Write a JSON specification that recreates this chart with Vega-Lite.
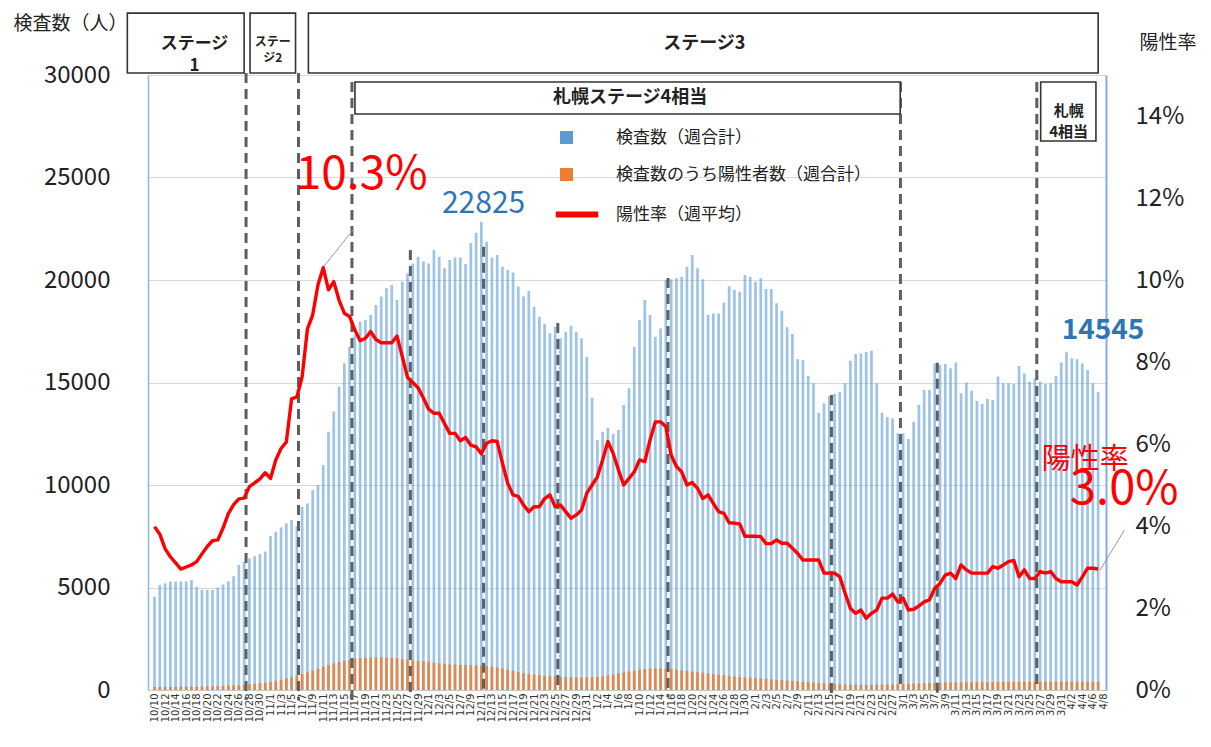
{
"$schema":"https://vega.github.io/schema/vega-lite/v6.json",
"width":958,"height":615,
"autosize":{"type":"none"},
"padding":{"left":148,"top":75,"right":105,"bottom":57},
"background":"white",
"config":{"view":{"stroke":null},"font":"Noto Sans CJK JP","text":{"font":"Noto Sans CJK JP"}},
"datasets":{"main":[
{"d":"2020-10-10","t":4550,"p":150,"r":3.98},{"d":"2020-10-11","t":5120,"p":150,"r":3.80},{"d":"2020-10-12","t":5200,"p":150,"r":3.45},{"d":"2020-10-13","t":5290,"p":150,"r":3.25},{"d":"2020-10-14","t":5290,"p":150,"r":3.10},{"d":"2020-10-15","t":5290,"p":160,"r":2.95},{"d":"2020-10-16","t":5300,"p":160,"r":3.00},{"d":"2020-10-17","t":5370,"p":160,"r":3.05},{"d":"2020-10-18","t":5040,"p":160,"r":3.13},{"d":"2020-10-19","t":4880,"p":170,"r":3.32},
{"d":"2020-10-20","t":4880,"p":170,"r":3.50},{"d":"2020-10-21","t":4880,"p":180,"r":3.64},{"d":"2020-10-22","t":5000,"p":190,"r":3.66},{"d":"2020-10-23","t":5150,"p":200,"r":3.95},{"d":"2020-10-24","t":5300,"p":210,"r":4.30},{"d":"2020-10-25","t":5550,"p":220,"r":4.52},{"d":"2020-10-26","t":6100,"p":240,"r":4.66},{"d":"2020-10-27","t":6260,"p":260,"r":4.68},{"d":"2020-10-28","t":6420,"p":280,"r":4.96},{"d":"2020-10-29","t":6530,"p":300,"r":5.05},
{"d":"2020-10-30","t":6630,"p":330,"r":5.15},{"d":"2020-10-31","t":6750,"p":360,"r":5.30},{"d":"2020-11-01","t":7510,"p":400,"r":5.16},{"d":"2020-11-02","t":7720,"p":450,"r":5.61},{"d":"2020-11-03","t":7930,"p":500,"r":5.89},{"d":"2020-11-04","t":8130,"p":560,"r":6.05},{"d":"2020-11-05","t":8290,"p":630,"r":7.10},{"d":"2020-11-06","t":8000,"p":700,"r":7.15},{"d":"2020-11-07","t":8940,"p":780,"r":7.64},{"d":"2020-11-08","t":9100,"p":860,"r":8.80},
{"d":"2020-11-09","t":9760,"p":950,"r":9.15},{"d":"2020-11-10","t":10000,"p":1040,"r":9.88},{"d":"2020-11-11","t":10980,"p":1130,"r":10.3},{"d":"2020-11-12","t":12600,"p":1220,"r":9.76},{"d":"2020-11-13","t":13580,"p":1300,"r":9.96},{"d":"2020-11-14","t":14800,"p":1370,"r":9.51},{"d":"2020-11-15","t":15940,"p":1430,"r":9.19},{"d":"2020-11-16","t":16750,"p":1480,"r":9.11},{"d":"2020-11-17","t":17300,"p":1520,"r":8.78},{"d":"2020-11-18","t":17970,"p":1550,"r":8.52},
{"d":"2020-11-19","t":18050,"p":1570,"r":8.58},{"d":"2020-11-20","t":18290,"p":1580,"r":8.74},{"d":"2020-11-21","t":18780,"p":1590,"r":8.55},{"d":"2020-11-22","t":19190,"p":1590,"r":8.47},{"d":"2020-11-23","t":19600,"p":1580,"r":8.47},{"d":"2020-11-24","t":19760,"p":1560,"r":8.47},{"d":"2020-11-25","t":19030,"p":1540,"r":8.63},{"d":"2020-11-26","t":19920,"p":1510,"r":8.13},{"d":"2020-11-27","t":20330,"p":1480,"r":7.62},{"d":"2020-11-28","t":20810,"p":1450,"r":7.50},
{"d":"2020-11-29","t":21140,"p":1420,"r":7.37},{"d":"2020-11-30","t":20900,"p":1390,"r":7.12},{"d":"2020-12-01","t":20810,"p":1360,"r":6.85},{"d":"2020-12-02","t":21460,"p":1330,"r":6.75},{"d":"2020-12-03","t":21140,"p":1300,"r":6.75},{"d":"2020-12-04","t":20570,"p":1280,"r":6.50},{"d":"2020-12-05","t":20975,"p":1260,"r":6.26},{"d":"2020-12-06","t":21100,"p":1240,"r":6.26},{"d":"2020-12-07","t":21100,"p":1230,"r":6.08},{"d":"2020-12-08","t":20780,"p":1220,"r":6.16},
{"d":"2020-12-09","t":21800,"p":1210,"r":5.97},{"d":"2020-12-10","t":22300,"p":1200,"r":5.93},{"d":"2020-12-11","t":22825,"p":1190,"r":5.76},{"d":"2020-12-12","t":21870,"p":1170,"r":6.02},{"d":"2020-12-13","t":21100,"p":1140,"r":6.08},{"d":"2020-12-14","t":21220,"p":1100,"r":6.06},{"d":"2020-12-15","t":20650,"p":1050,"r":5.53},{"d":"2020-12-16","t":20490,"p":990,"r":5.04},{"d":"2020-12-17","t":20360,"p":930,"r":4.76},{"d":"2020-12-18","t":19680,"p":870,"r":4.72},
{"d":"2020-12-19","t":19190,"p":820,"r":4.51},{"d":"2020-12-20","t":19480,"p":780,"r":4.35},{"d":"2020-12-21","t":18700,"p":750,"r":4.47},{"d":"2020-12-22","t":18210,"p":720,"r":4.47},{"d":"2020-12-23","t":17850,"p":700,"r":4.67},{"d":"2020-12-24","t":17400,"p":680,"r":4.76},{"d":"2020-12-25","t":17720,"p":670,"r":4.47},{"d":"2020-12-26","t":17160,"p":650,"r":4.51},{"d":"2020-12-27","t":17480,"p":640,"r":4.35},{"d":"2020-12-28","t":17770,"p":630,"r":4.19},
{"d":"2020-12-29","t":17480,"p":620,"r":4.27},{"d":"2020-12-30","t":17160,"p":610,"r":4.39},{"d":"2020-12-31","t":16260,"p":610,"r":4.80},{"d":"2021-01-01","t":14260,"p":620,"r":5.00},{"d":"2021-01-02","t":12200,"p":640,"r":5.20},{"d":"2021-01-03","t":12600,"p":670,"r":5.61},{"d":"2021-01-04","t":12790,"p":710,"r":6.06},{"d":"2021-01-05","t":12500,"p":760,"r":5.77},{"d":"2021-01-06","t":12680,"p":810,"r":5.37},{"d":"2021-01-07","t":13900,"p":860,"r":5.00},
{"d":"2021-01-08","t":14720,"p":910,"r":5.16},{"d":"2021-01-09","t":16750,"p":950,"r":5.32},{"d":"2021-01-10","t":18050,"p":990,"r":5.61},{"d":"2021-01-11","t":19020,"p":1020,"r":5.57},{"d":"2021-01-12","t":18290,"p":1040,"r":6.10},{"d":"2021-01-13","t":17230,"p":1050,"r":6.54},{"d":"2021-01-14","t":17640,"p":1050,"r":6.54},{"d":"2021-01-15","t":20000,"p":1040,"r":6.42},{"d":"2021-01-16","t":20040,"p":1020,"r":5.73},{"d":"2021-01-17","t":20080,"p":990,"r":5.45},
{"d":"2021-01-18","t":20160,"p":960,"r":5.32},{"d":"2021-01-19","t":20650,"p":930,"r":5.00},{"d":"2021-01-20","t":21220,"p":900,"r":5.06},{"d":"2021-01-21","t":20570,"p":870,"r":4.92},{"d":"2021-01-22","t":20040,"p":840,"r":4.67},{"d":"2021-01-23","t":18290,"p":810,"r":4.76},{"d":"2021-01-24","t":18370,"p":780,"r":4.55},{"d":"2021-01-25","t":18370,"p":750,"r":4.35},{"d":"2021-01-26","t":18900,"p":720,"r":4.31},{"d":"2021-01-27","t":19700,"p":690,"r":4.08},
{"d":"2021-01-28","t":19510,"p":660,"r":4.07},{"d":"2021-01-29","t":19430,"p":640,"r":4.05},{"d":"2021-01-30","t":20240,"p":620,"r":3.75},{"d":"2021-01-31","t":20160,"p":600,"r":3.75},{"d":"2021-02-01","t":19920,"p":580,"r":3.75},{"d":"2021-02-02","t":20080,"p":560,"r":3.74},{"d":"2021-02-03","t":19560,"p":540,"r":3.57},{"d":"2021-02-04","t":19560,"p":520,"r":3.57},{"d":"2021-02-05","t":18860,"p":500,"r":3.66},{"d":"2021-02-06","t":18500,"p":480,"r":3.58},
{"d":"2021-02-07","t":17690,"p":460,"r":3.58},{"d":"2021-02-08","t":17360,"p":440,"r":3.46},{"d":"2021-02-09","t":16130,"p":420,"r":3.33},{"d":"2021-02-10","t":16100,"p":400,"r":3.17},{"d":"2021-02-11","t":15320,"p":380,"r":3.17},{"d":"2021-02-12","t":14960,"p":360,"r":3.17},{"d":"2021-02-13","t":13530,"p":340,"r":3.17},{"d":"2021-02-14","t":13990,"p":320,"r":2.85},{"d":"2021-02-15","t":14340,"p":300,"r":2.85},{"d":"2021-02-16","t":14440,"p":290,"r":2.85},
{"d":"2021-02-17","t":14550,"p":280,"r":2.76},{"d":"2021-02-18","t":14960,"p":270,"r":2.36},{"d":"2021-02-19","t":16060,"p":260,"r":1.99},{"d":"2021-02-20","t":16390,"p":250,"r":1.87},{"d":"2021-02-21","t":16420,"p":250,"r":1.95},{"d":"2021-02-22","t":16490,"p":250,"r":1.75},{"d":"2021-02-23","t":16550,"p":250,"r":1.87},{"d":"2021-02-24","t":14960,"p":255,"r":1.95},{"d":"2021-02-25","t":13530,"p":260,"r":2.24},{"d":"2021-02-26","t":13300,"p":265,"r":2.24},
{"d":"2021-02-27","t":13250,"p":270,"r":2.34},{"d":"2021-02-28","t":12520,"p":280,"r":2.15},{"d":"2021-03-01","t":12520,"p":290,"r":2.24},{"d":"2021-03-02","t":12240,"p":300,"r":1.95},{"d":"2021-03-03","t":13090,"p":310,"r":1.97},{"d":"2021-03-04","t":13900,"p":320,"r":2.05},{"d":"2021-03-05","t":14640,"p":330,"r":2.15},{"d":"2021-03-06","t":14640,"p":340,"r":2.20},{"d":"2021-03-07","t":15930,"p":350,"r":2.48},{"d":"2021-03-08","t":15850,"p":360,"r":2.60},
{"d":"2021-03-09","t":15900,"p":370,"r":2.80},{"d":"2021-03-10","t":15690,"p":370,"r":2.85},{"d":"2021-03-11","t":15980,"p":375,"r":2.72},{"d":"2021-03-12","t":14470,"p":375,"r":3.05},{"d":"2021-03-13","t":15000,"p":380,"r":2.93},{"d":"2021-03-14","t":14600,"p":380,"r":2.85},{"d":"2021-03-15","t":14100,"p":380,"r":2.85},{"d":"2021-03-16","t":13950,"p":380,"r":2.85},{"d":"2021-03-17","t":14200,"p":385,"r":2.85},{"d":"2021-03-18","t":14150,"p":385,"r":3.01},
{"d":"2021-03-19","t":15290,"p":390,"r":2.97},{"d":"2021-03-20","t":14960,"p":390,"r":3.05},{"d":"2021-03-21","t":14960,"p":390,"r":3.13},{"d":"2021-03-22","t":14930,"p":395,"r":3.16},{"d":"2021-03-23","t":15810,"p":395,"r":2.76},{"d":"2021-03-24","t":15450,"p":395,"r":2.93},{"d":"2021-03-25","t":15040,"p":400,"r":2.72},{"d":"2021-03-26","t":15200,"p":400,"r":2.72},{"d":"2021-03-27","t":15040,"p":400,"r":2.89},{"d":"2021-03-28","t":14930,"p":400,"r":2.85},
{"d":"2021-03-29","t":14960,"p":400,"r":2.89},{"d":"2021-03-30","t":15320,"p":400,"r":2.72},{"d":"2021-03-31","t":15970,"p":405,"r":2.64},{"d":"2021-04-01","t":16500,"p":405,"r":2.64},{"d":"2021-04-02","t":16180,"p":405,"r":2.64},{"d":"2021-04-03","t":16130,"p":405,"r":2.56},{"d":"2021-04-04","t":15930,"p":405,"r":2.76},{"d":"2021-04-05","t":15610,"p":405,"r":2.97},{"d":"2021-04-06","t":14960,"p":400,"r":2.97},{"d":"2021-04-07","t":14545,"p":400,"r":2.95}
]},
"data":{"name":"main"},
"resolve":{"scale":{"y":"independent"}},
"layer":[
{"layer":[
 {"mark":{"type":"bar","width":2.7,"opacity":0.6},
  "encoding":{
   "x":{"field":"d","type":"temporal","scale":{"type":"utc","domain":[1602262800000,1617800400000]},
     "axis":{"title":null,"tickCount":{"interval":"day","step":1},"labelExpr":"round((datum.value - 1602288000000) / 86400000) % 2 == 0 ? utcFormat(datum.value, '%-m/%-d') : ''","labelAngle":-90,"labelFont":"DejaVu Sans","labelFontSize":10,"labelColor":"#333333","ticks":false,"grid":false,"labelOverlap":false,"labelBound":false,"labelFlush":false,"labelPadding":3,"domainColor":"#C8C8C8"}},
   "y":{"field":"t","type":"quantitative","title":"検査数（人）","scale":{"domain":[0,30000],"nice":false},
     "axis":{"values":[0,5000,10000,15000,20000,25000,30000],"format":"d","labelFontSize":24,"labelColor":"#222222","labelPadding":38,"ticks":false,"grid":true,"gridColor":"#D9D9D9","domainColor":"#8DB6E0","domainWidth":1.5,"titleAngle":0,"titleAlign":"left","titleBaseline":"middle","titleX":-135,"titleY":-52,"titleFontSize":19,"titleFontWeight":"normal","titleColor":"#222222"}},
   "color":{"datum":"検査数（週合計）","type":"nominal",
     "scale":{"domain":["検査数（週合計）","検査数のうち陽性者数（週合計）","陽性率（週平均）"],"range":["#5B9BD5","#ED7D31","#FF0000"]},
     "legend":{"orient":"none","legendX":412,"legendY":54,"title":null,"labelFontSize":17,"labelColor":"#222222","labelLimit":500,"symbolSize":170,"labelOffset":39,"rowPadding":19,"symbolOpacity":1,
       "encode":{"symbols":{"update":{
         "shape":{"signal":"datum.index == 2 ? 'stroke' : 'square'"},
         "size":{"signal":"datum.index == 2 ? 1800 : 170"},
         "fill":{"signal":"datum.index == 0 ? '#5B9BD5' : datum.index == 1 ? '#ED7D31' : 'transparent'"},
         "stroke":{"signal":"datum.index == 2 ? '#FF0000' : 'transparent'"},
         "strokeWidth":{"signal":"datum.index == 2 ? 6 : 0"},
         "opacity":{"value":1},
         "x":{"signal":"datum.index == 2 ? 17 : 6.5"}}}}}}
  }},
 {"mark":{"type":"bar","width":2.7,"opacity":0.85},
  "encoding":{"x":{"field":"d","type":"temporal"},"y":{"field":"p","type":"quantitative","title":"検査数（人）"},"color":{"datum":"検査数のうち陽性者数（週合計）","type":"nominal"}}},
 {"data":{"values":[
   {"d":"2020-10-27T08:40:00Z","top":30100,"bot":-490},
   {"d":"2020-11-06T07:30:00Z","top":30100,"bot":-490},
   {"d":"2020-11-16T10:50:00Z","top":29660,"bot":-490},
   {"d":"2020-11-27T12:40:00Z","top":21460,"bot":-340},
   {"d":"2020-12-11T10:00:00Z","top":21620,"bot":-250},
   {"d":"2020-12-25T12:00:00Z","top":17900,"bot":0},
   {"d":"2021-01-15T09:40:00Z","top":20100,"bot":-340},
   {"d":"2021-02-15T09:40:00Z","top":14390,"bot":-340},
   {"d":"2021-02-28T12:00:00Z","top":29660,"bot":0},
   {"d":"2021-03-07T12:00:00Z","top":15960,"bot":-400},
   {"d":"2021-03-26T08:40:00Z","top":29660,"bot":0}]},
  "mark":{"type":"rule","color":"#5F5F5F","strokeWidth":3,"strokeDash":[10,6]},
  "encoding":{"x":{"field":"d","type":"temporal"},"y":{"field":"top","type":"quantitative","title":"検査数（人）"},"y2":{"field":"bot"}}},
 {"data":{"values":[
   {"a":"2020-10-04T20:10:00Z","b":"2020-10-26T23:50:00Z","y1":33020,"y2":30100},
   {"a":"2020-10-28T02:50:00Z","b":"2020-11-05T18:00:00Z","y1":33020,"y2":30100},
   {"a":"2020-11-08T04:30:00Z","b":"2021-04-07T00:00:00Z","y1":33020,"y2":30100},
   {"a":"2020-11-17T00:30:00Z","b":"2021-02-28T10:50:00Z","y1":29660,"y2":28100},
   {"a":"2021-03-27T02:20:00Z","b":"2021-04-06T14:00:00Z","y1":29660,"y2":26780}]},
  "mark":{"type":"rect","fill":"white","stroke":"#333333","strokeWidth":1.6},
  "encoding":{"x":{"field":"a","type":"temporal"},"x2":{"field":"b"},"y":{"field":"y1","type":"quantitative","title":"検査数（人）"},"y2":{"field":"y2"}}},
 {"data":{"values":[{"d":"2020-10-17T14:00:00Z","y":31510,"s":"ステージ|1"}]},
  "mark":{"type":"text","fontSize":17,"fontWeight":"bold","lineBreak":"|","lineHeight":22,"color":"#222222","baseline":"middle"},
  "encoding":{"x":{"field":"d","type":"temporal"},"y":{"field":"y","type":"quantitative","title":"検査数（人）"},"text":{"field":"s"}}},
 {"data":{"values":[{"d":"2020-11-01T10:30:00Z","y":31610,"s":"ステー|ジ2"}]},
  "mark":{"type":"text","fontSize":12,"fontWeight":"bold","lineBreak":"|","lineHeight":16,"color":"#222222","baseline":"middle"},
  "encoding":{"x":{"field":"d","type":"temporal"},"y":{"field":"y","type":"quantitative","title":"検査数（人）"},"text":{"field":"s"}}},
 {"data":{"values":[{"d":"2021-01-22T07:00:00Z","y":31510,"s":"ステージ3"},{"d":"2021-01-08T05:00:00Z","y":28880,"s":"札幌ステージ4相当"}]},
  "mark":{"type":"text","fontSize":18,"fontWeight":"bold","color":"#222222","baseline":"middle"},
  "encoding":{"x":{"field":"d","type":"temporal"},"y":{"field":"y","type":"quantitative","title":"検査数（人）"},"text":{"field":"s"}}},
 {"data":{"values":[{"d":"2021-04-01T09:40:00Z","y":28240,"s":"札幌|4相当"}]},
  "mark":{"type":"text","fontSize":15,"fontWeight":"bold","lineBreak":"|","lineHeight":21,"color":"#222222","baseline":"middle"},
  "encoding":{"x":{"field":"d","type":"temporal"},"y":{"field":"y","type":"quantitative","title":"検査数（人）"},"text":{"field":"s"}}},
 {"data":{"values":[{"d":"2020-11-16T15:20:00Z","d2":"2020-11-11T00:00:00Z","y":22440,"y2":20630},{"d":"2021-04-07T08:50:00Z","d2":"2021-04-11T23:30:00Z","y":5850,"y2":7800}]},
  "mark":{"type":"rule","color":"#9A9A9A","strokeWidth":1},
  "encoding":{"x":{"field":"d","type":"temporal"},"x2":{"field":"d2"},"y":{"field":"y","type":"quantitative","title":"検査数（人）"},"y2":{"field":"y2"}}},
 {"data":{"values":[{"d":"2020-11-18T07:00:00Z","y":25120,"s":"10.3%"}]},
  "mark":{"type":"text","fontSize":46,"color":"#FF0000","baseline":"middle"},
  "encoding":{"x":{"field":"d","type":"temporal"},"y":{"field":"y","type":"quantitative","title":"検査数（人）"},"text":{"field":"s"}}},
 {"data":{"values":[{"d":"2020-12-11T10:00:00Z","y":23700,"s":"22825"}]},
  "mark":{"type":"text","fontSize":30,"color":"#2E75B6","baseline":"middle"},
  "encoding":{"x":{"field":"d","type":"temporal"},"y":{"field":"y","type":"quantitative","title":"検査数（人）"},"text":{"field":"s"}}},
 {"data":{"values":[{"d":"2021-04-07T22:20:00Z","y":17510,"s":"14545"}]},
  "mark":{"type":"text","fontSize":28,"fontWeight":"bold","color":"#2E75B6","baseline":"middle"},
  "encoding":{"x":{"field":"d","type":"temporal"},"y":{"field":"y","type":"quantitative","title":"検査数（人）"},"text":{"field":"s"}}},
 {"data":{"values":[{"d":"2021-04-04T13:30:00Z","y":11220,"s":"陽性率"}]},
  "mark":{"type":"text","fontSize":29,"color":"#FF0000","baseline":"middle"},
  "encoding":{"x":{"field":"d","type":"temporal"},"y":{"field":"y","type":"quantitative","title":"検査数（人）"},"text":{"field":"s"}}},
 {"data":{"values":[{"d":"2021-04-11T23:00:00Z","y":9750,"s":"3.0%"}]},
  "mark":{"type":"text","fontSize":47,"color":"#FF0000","baseline":"middle"},
  "encoding":{"x":{"field":"d","type":"temporal"},"y":{"field":"y","type":"quantitative","title":"検査数（人）"},"text":{"field":"s"}}}
]},
{"layer":[
 {"mark":{"type":"line","strokeWidth":3.4,"strokeJoin":"round"},
  "encoding":{
   "x":{"field":"d","type":"temporal"},
   "y":{"field":"r","type":"quantitative","title":"陽性率","scale":{"domain":[0,15],"nice":false},
     "axis":{"orient":"right","values":[0,2,4,6,8,10,12,14],"labelExpr":"datum.value + '%'","labelFontSize":24,"labelColor":"#222222","labelPadding":29,"ticks":false,"grid":false,"domainColor":"#7EB0DE","domainWidth":2,"titleAngle":0,"titleAlign":"left","titleBaseline":"middle","titleX":33,"titleY":-33,"titleFontSize":19,"titleFontWeight":"normal","titleColor":"#222222"}},
   "color":{"datum":"陽性率（週平均）","type":"nominal"}
  }}
]}
]
}
